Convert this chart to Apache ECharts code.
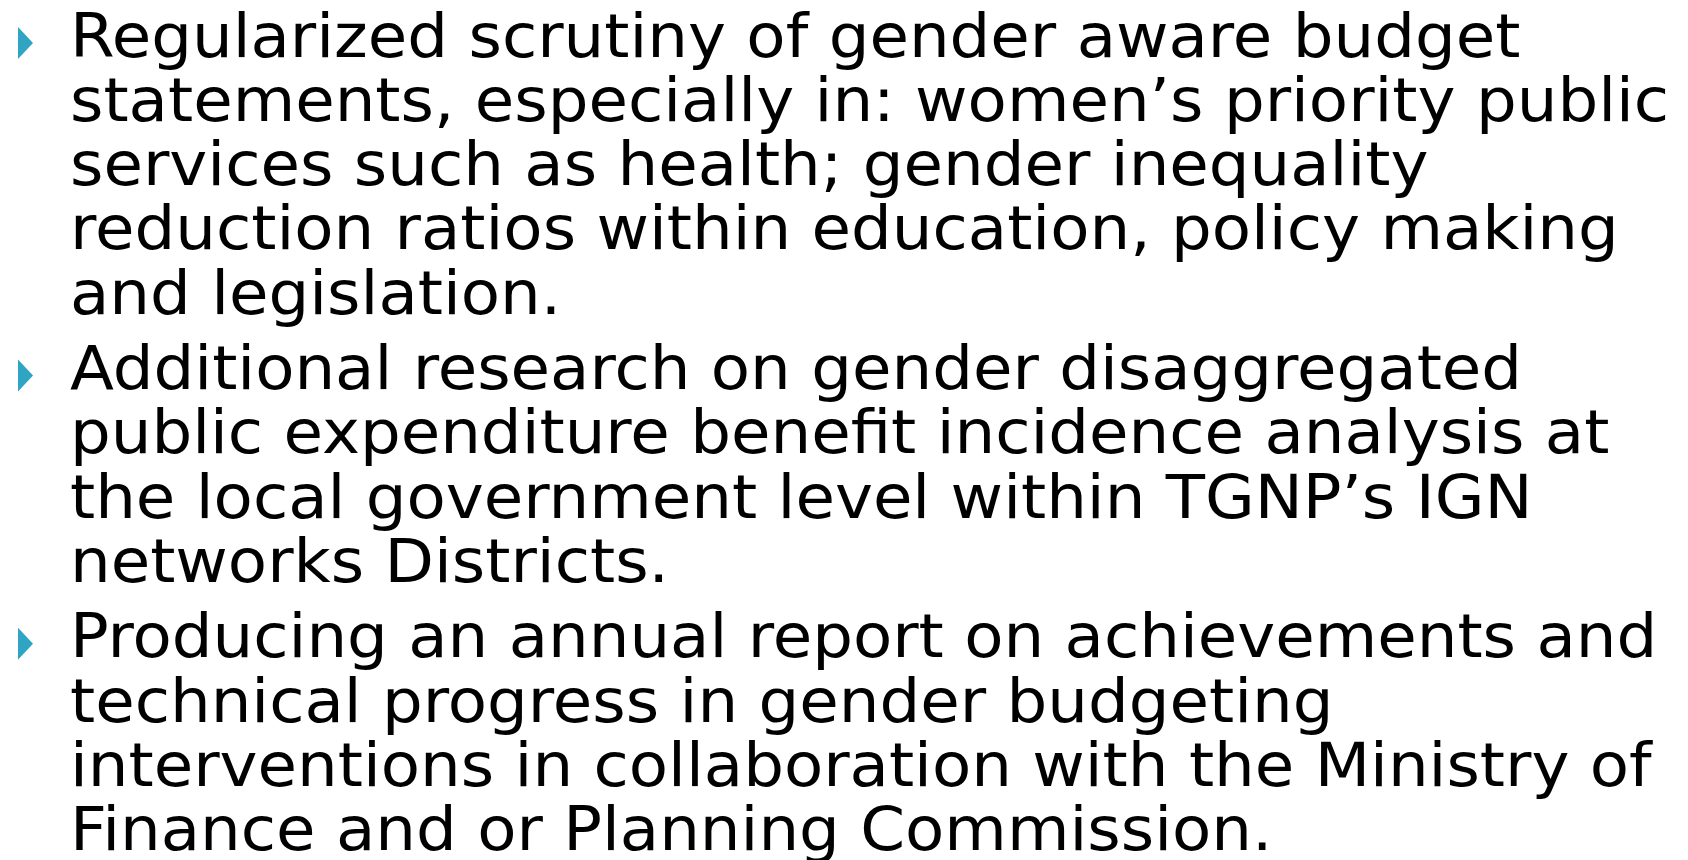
<!DOCTYPE html>
<html>
<head>
<meta charset="utf-8">
<script src="https://cdn.jsdelivr.net/npm/echarts@6/dist/echarts.min.js"></script>
<style>
    html, body { margin: 0; padding: 0; background: #fff; }
    #main { width: 1688px; height: 860px; }
</style>
</head>
<body>
<div id="main"></div>
<script>
// slide text, one array of wrapped lines per bullet
const bullet1 = [
    'Regularized scrutiny of gender aware budget',
    'statements, especially in: women\u2019s priority public',
    'services such as health; gender inequality',
    'reduction ratios within education, policy making',
    'and legislation.'
];
const bullet2 = [
    'Additional research on gender disaggregated',
    'public expenditure benefit incidence analysis at',
    'the local government level within TGNP\u2019s IGN',
    'networks Districts.'
];
const bullet3 = [
    'Producing an annual report on achievements and',
    'technical progress in gender budgeting',
    'interventions in collaboration with the Ministry of',
    'Finance and or Planning Commission.'
];
const bullets = [bullet1, bullet2, bullet3];

const chart = echarts.init(document.getElementById('main'));

const textLeft = 70;
const lineGap = 64.3;
const paraGap = 11;
const fontSize = 60;
// text is bottom aligned, so push it down to sit on the baseline
const baseShift = 10;

let graphics = [];
let baseline = 61;
bullets.forEach(function (lines) {
    // teal triangle bullet
    graphics.push({
        type: 'polygon',
        shape: {
            points: [[18, baseline - 34], [33, baseline - 18], [18, baseline - 2]]
        },
        style: { fill: '#2fa4c3' }
    });
    lines.forEach(function (line, i) {
        graphics.push({
            type: 'text',
            x: textLeft,
            y: baseline + i * lineGap + baseShift,
            scaleX: 1.07,
            style: {
                text: line,
                fill: '#000',
                font: fontSize + 'px "DejaVu Sans"',
                verticalAlign: 'bottom'
            }
        });
    });
    baseline += lines.length * lineGap + paraGap;
});

chart.setOption({
    backgroundColor: '#fff',
    animation: false,
    graphic: graphics
});
</script>
</body>
</html>
